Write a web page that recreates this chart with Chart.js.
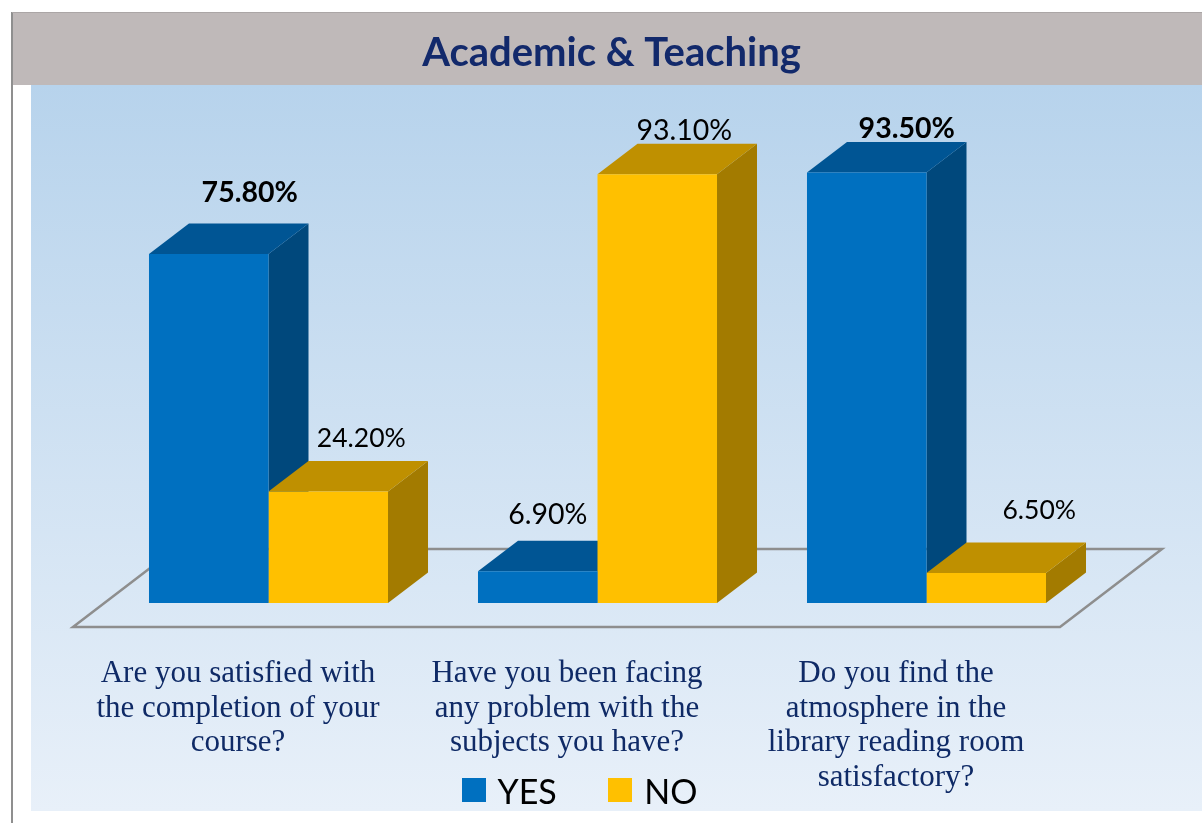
<!DOCTYPE html>
<html>
<head>
<meta charset="utf-8">
<style>html,body{margin:0;padding:0;background:#fff}canvas{display:block}</style>
<script src="https://cdn.jsdelivr.net/npm/chart.js@4"></script>
</head>
<body>
<div style="width:1202px;height:823px;position:relative"><canvas id="c"></canvas></div>
<script>
const titleText = 'Academic & Teaching';
const categories = [
  ['Are you satisfied with', 'the completion of your', 'course?'],
  ['Have you been facing', 'any problem with the', 'subjects you have?'],
  ['Do you find the', 'atmosphere in the', 'library reading room', 'satisfactory?']
];
const seriesNames = ['YES', 'NO'];
const yesValues = [75.8, 6.9, 93.5];
const noValues = [24.2, 93.1, 6.5];

const faceColors = [
  {front:'#0070C0', top:'#005594', side:'#00487C'},
  {front:'#FFC000', top:'#BF9000', side:'#A37B00'}
];
const DEPTH_X = 40, DEPTH_Y = 30.5;
const labelShift = [
  [[41,-61.5],[10,-56.5],[40,-43.5]],
  [[33,-53.5],[27,-43.5],[53,-62.5]]
];
const labelSizes = [[28.5,28.5,28.5],[26.5,28.5,26.5]];
const boldLabels = [[true,false,true],[false,false,false]];

const swatches = faceColors.map(c=>{
  const s = document.createElement('canvas');
  s.width = 24; s.height = 30;
  const x = s.getContext('2d');
  x.fillStyle = c.front; x.fillRect(0,0,24,24);
  return s;
});

const scene = {
  id:'scene',
  afterLayout(chart){
    const t = chart.titleBlock; t.left += 14; t.right += 14; t.top = 33;
    const l = chart.legend;
    l.left -= 15.5; l.right -= 15.5;
    l.top = 719.5; l.bottom = 823;
  },
  beforeDraw(chart){
    const {ctx,width,height} = chart;
    ctx.save();
    ctx.fillStyle = '#fff'; ctx.fillRect(0,0,width,height);
    const g = ctx.createLinearGradient(0,85,0,811);
    g.addColorStop(0,'#B7D3EC'); g.addColorStop(1,'#E8F0F9');
    ctx.fillStyle = g; ctx.fillRect(31,85,width-31,726);
    ctx.fillStyle = '#BFB9B9'; ctx.fillRect(12,12,width-12,73);
    ctx.fillStyle = '#8F8F8F'; ctx.fillRect(11,12,2,height-12);
    ctx.fillStyle = '#ABA6A6'; ctx.fillRect(12,12,width-12,1);
    ctx.restore();
  },
  beforeDatasetsDraw(chart){
    const {ctx,chartArea:a} = chart;
    const y0 = chart.scales.y.getPixelForValue(0);
    ctx.save();
    const fy = y0+24, fl = a.left-31, fr = a.right-31;
    ctx.strokeStyle = '#8E8E8E'; ctx.lineWidth = 2.5;
    ctx.beginPath();
    ctx.moveTo(fl+102,fy-78); ctx.lineTo(fr+102,fy-78); ctx.lineTo(fr,fy); ctx.lineTo(fl,fy); ctx.closePath();
    ctx.stroke();
    chart.data.datasets.forEach((ds,di)=>{
      const col = faceColors[di];
      chart.getDatasetMeta(di).data.forEach(b=>{
        const l=b.x-b.width/2, r=b.x+b.width/2, t=b.y, base=b.base;
        ctx.fillStyle = col.side;
        ctx.beginPath();
        ctx.moveTo(r,t); ctx.lineTo(r+DEPTH_X,t-DEPTH_Y); ctx.lineTo(r+DEPTH_X,base-DEPTH_Y); ctx.lineTo(r,base); ctx.closePath(); ctx.fill();
        ctx.fillStyle = col.top;
        ctx.beginPath();
        ctx.moveTo(l,t); ctx.lineTo(l+DEPTH_X,t-DEPTH_Y); ctx.lineTo(r+DEPTH_X,t-DEPTH_Y); ctx.lineTo(r,t); ctx.closePath(); ctx.fill();
      });
    });
    ctx.restore();
  },
  afterDatasetsDraw(chart){
    const {ctx} = chart;
    ctx.save();
    ctx.textAlign='center'; ctx.textBaseline='middle'; ctx.fillStyle='#000';
    chart.data.datasets.forEach((ds,di)=>{
      chart.getDatasetMeta(di).data.forEach((b,i)=>{
        const [dx,dy] = labelShift[di][i];
        ctx.font = (boldLabels[di][i]?'bold ':'') + labelSizes[di][i] + 'px Lato';
        ctx.fillText(ds.data[i].toFixed(2)+'%', b.x+dx, b.y+dy);
      });
    });
    ctx.restore();
  }
};

new Chart(document.getElementById('c'),{
  type:'bar',
  data:{
    labels:categories,
    datasets:[
      {label:seriesNames[0],data:yesValues,backgroundColor:faceColors[0].front},
      {label:seriesNames[1],data:noValues,backgroundColor:faceColors[1].front}
    ]
  },
  options:{
    responsive:true,maintainAspectRatio:false,animation:false,
    layout:{padding:{left:104,right:111,top:2,bottom:0}},
    categoryPercentage:0.7265,barPercentage:1,
    scales:{
      x:{
        grid:{display:false,drawTicks:false},border:{display:false},
        ticks:{color:'#0F2A66',font:{family:'Liberation Serif',size:31,lineHeight:1.113},padding:54,labelOffset:-30.5,maxRotation:0,autoSkip:false},
        afterFit(s){ s.height = 220; }
      },
      y:{display:false,min:0,max:100}
    },
    plugins:{
      title:{display:true,text:titleText,color:'#12296B',font:{family:'Lato',size:40,weight:'bold',lineHeight:1},padding:0},
      legend:{position:'top',labels:{usePointStyle:true,pointStyleWidth:14,boxHeight:24,padding:56.5,color:'#000',font:{family:'Lato',size:34},
        generateLabels(chart){
          const items = Chart.defaults.plugins.legend.labels.generateLabels(chart);
          items.forEach((it,i)=>{ it.pointStyle = swatches[i]; });
          return items;
        }}},
      tooltip:{enabled:false}
    }
  },
  plugins:[scene]
});
</script>
</body>
</html>
